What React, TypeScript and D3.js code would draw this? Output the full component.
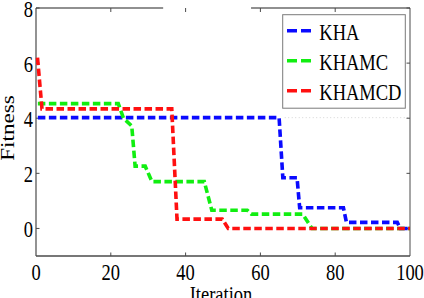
import React from "react";
import * as d3 from "d3";

type P = [number, number];

const seriesNames = ["KHA", "KHAMC", "KHAMCD"];
const seriesColors = ["#0a0aff", "#11ee11", "#ff1010"];

const khaPoints: P[] = [
  [0.5, 4.02], [65, 4.02], [66, 1.84], [69.8, 1.84], [70.5, 0.75],
  [82.2, 0.75], [83, 0.22], [96.6, 0.22], [97.4, 0.0], [100, 0.0],
];
const khamcPoints: P[] = [
  [0.5, 4.53], [22, 4.53], [23.4, 4.0], [25.6, 3.72], [26.5, 2.26],
  [29.2, 2.26], [31, 1.7], [45, 1.7], [47, 0.66], [56.5, 0.66],
  [57.6, 0.52], [71.3, 0.52], [73.8, 0.0], [100, 0.0],
];
const khamcdPoints: P[] = [
  [0.4, 6.2], [1.6, 4.34], [36.3, 4.34], [37.7, 0.34], [49.8, 0.34],
  [51.4, 0.0], [100, 0.0],
];
const allSeries = [khaPoints, khamcPoints, khamcdPoints];

const xTicks = [0, 20, 40, 60, 80, 100];
const yTicks = [0, 2, 4, 6, 8];
const xDomain: P = [0, 100];
const yDomain: P = [-1, 8];
const topFrameSegments: P[] = [[0, 34], [57.5, 100]];

const W = 424;
const H = 298;
const FONT = '"Liberation Serif", "DejaVu Serif", serif';
const textStyle: React.CSSProperties = { fontFamily: FONT, fontSize: "18.5px" };

export default function App() {
  const x = d3.scaleLinear().domain(xDomain).range([36, 410]);
  const y = d3.scaleLinear().domain(yDomain).range([256, 8]);
  const line = d3
    .line<P>()
    .x((d) => x(d[0]))
    .y((d) => y(d[1]));

  const axisColor = "#4a4a4a";
  const x0 = x(xDomain[0]);
  const x1 = x(xDomain[1]);
  const yB = y(yDomain[0]);
  const yT = y(yDomain[1]);

  return (
    <svg
      width={W}
      height={H}
      style={{ position: "absolute", left: 0, top: 0, background: "#fff" }}
    >
      <rect x={0} y={0} width={W} height={H} fill="#fff" />
      <line
        x1={x(66.5)}
        x2={x1}
        y1={y(4.02)}
        y2={y(4.02)}
        stroke="#d4d4d4"
        strokeWidth={1}
        strokeDasharray="1,2.5"
      />
      <line x1={x0} x2={x0} y1={yT} y2={yB} stroke={axisColor} strokeWidth={1.2} />
      <line x1={x0} x2={x1} y1={yB} y2={yB} stroke={axisColor} strokeWidth={1.4} />
      <line x1={x1} x2={x1} y1={yT} y2={yB} stroke={axisColor} strokeWidth={1} />
      {topFrameSegments.map((s, i) => (
        <line key={i} x1={x(s[0])} x2={x(s[1])} y1={yT} y2={yT} stroke="#222" strokeWidth={1.2} />
      ))}
      {xTicks.slice(1, -1).map((t) => (
        <g key={"xt" + t}>
          <line x1={x(t)} x2={x(t)} y1={yB} y2={yB - 3.5} stroke={axisColor} strokeWidth={1} />
          <line x1={x(t)} x2={x(t)} y1={yT} y2={yT + 4} stroke={axisColor} strokeWidth={1} />
        </g>
      ))}
      {yTicks.map((t) => (
        <g key={"yt" + t}>
          <line x1={x0} x2={x0 + 3.5} y1={y(t)} y2={y(t)} stroke={axisColor} strokeWidth={1} />
          <line x1={x1} x2={x1 - 3.5} y1={y(t)} y2={y(t)} stroke={axisColor} strokeWidth={1} />
        </g>
      ))}
      {xTicks.map((t) => (
        <text
          key={"xl" + t}
          transform={`translate(${x(t)},280) scale(1,1.25)`}
          textAnchor="middle"
          style={textStyle}
          fill="#000"
        >
          {t}
        </text>
      ))}
      {yTicks.map((t) => (
        <text
          key={"yl" + t}
          transform={`translate(33,${y(t) + 9}) scale(1,1.25)`}
          textAnchor="end"
          style={textStyle}
          fill="#000"
        >
          {t}
        </text>
      ))}
      <text
        transform="translate(14,128) rotate(-90) scale(1.25,1)"
        textAnchor="middle"
        style={textStyle}
        fill="#000"
      >
        Fitness
      </text>
      <text
        transform="translate(221,302) scale(1,1.25)"
        textAnchor="middle"
        style={textStyle}
        fill="#000"
      >
        Iteration
      </text>
      {allSeries.map((pts, i) => (
        <path
          key={"s" + i}
          d={line(pts) || ""}
          fill="none"
          stroke={seriesColors[i]}
          strokeWidth={3.6}
          strokeDasharray="7.5,3.5"
          strokeLinejoin="miter"
        />
      ))}
      <rect x={282.7} y={14.7} width={122.6} height={93.5} fill="none" stroke="#7a7a7a" strokeWidth={1} />
      {seriesNames.map((n, i) => (
        <g key={"lg" + i}>
          <line
            x1={287}
            x2={313}
            y1={30.7 + i * 30}
            y2={30.7 + i * 30}
            stroke={seriesColors[i]}
            strokeWidth={3.6}
            strokeDasharray="10,4"
          />
          <text
            transform={`translate(319.3,${40 + i * 30}) scale(1,1.3)`}
            style={textStyle}
            fill="#000"
          >
            {n}
          </text>
        </g>
      ))}
    </svg>
  );
}
